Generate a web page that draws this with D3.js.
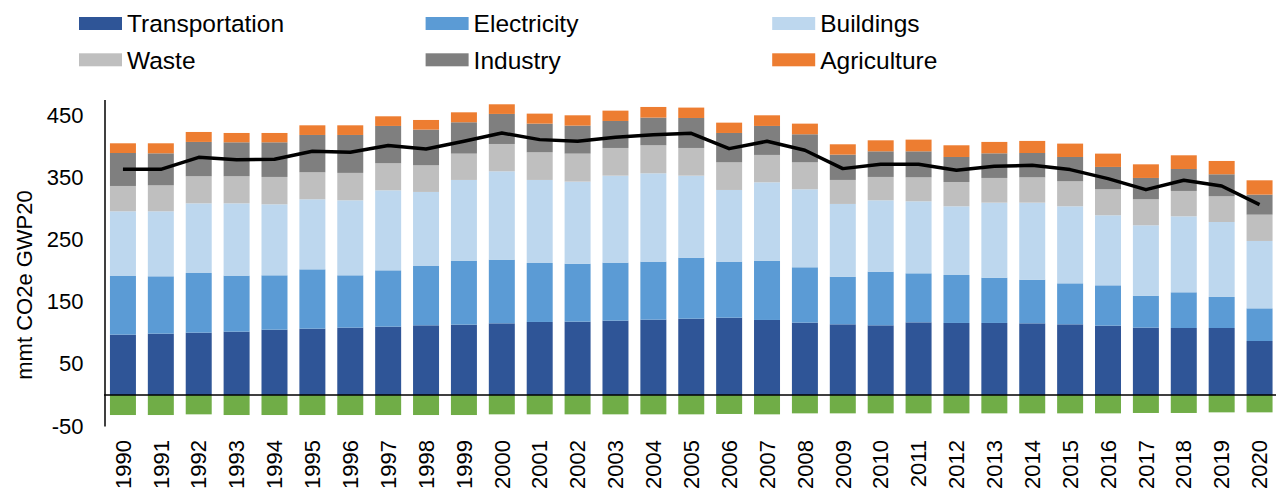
<!DOCTYPE html>
<html lang="en">
<head>
  <meta charset="UTF-8" />
  <title>Emissions by sector</title>
  <script src="https://d3js.org/d3.v7.min.js"></script>
  <style>
    body {
      margin: 0;
      background: #fff;
      font-family: 'Liberation Sans', Arial, sans-serif;
    }
    svg { display: block; }
  </style>
</head>
<body>
  <div id="chart"></div>

  <script>
    // data (mmt CO2e GWP20)
    const years = d3.range(1990, 2021).map(String);

    const transportation = [97.0, 98.6, 100.2, 101.8, 105.0, 106.6, 108.3, 109.9, 112.0, 113.1, 115.2, 117.4, 117.9, 119.5, 121.1, 122.7, 124.3, 120.6, 116.3, 113.6, 112.0, 116.8, 115.8, 115.8, 115.2, 113.6, 111.5, 108.3, 107.7, 107.7, 86.8];
    const electricity = [94.3, 92.2, 95.9, 90.1, 87.4, 95.4, 84.1, 90.5, 95.4, 102.9, 102.4, 94.8, 93.2, 93.3, 93.3, 98.1, 90.1, 95.4, 89.0, 76.6, 86.3, 78.8, 77.1, 72.8, 70.2, 65.9, 64.8, 51.4, 57.4, 49.9, 52.5];
    const buildings = [104.0, 104.5, 112.0, 116.2, 114.1, 112.6, 120.6, 128.6, 119.0, 129.7, 142.0, 133.5, 131.9, 139.8, 142.0, 131.8, 115.2, 125.9, 125.4, 116.9, 114.7, 115.8, 110.4, 120.6, 123.8, 123.8, 112.6, 113.1, 122.1, 120.5, 108.3];
    const waste = [40.7, 41.7, 43.5, 43.5, 44.0, 43.4, 44.0, 43.5, 42.8, 42.3, 43.9, 44.4, 45.0, 44.5, 45.0, 44.5, 44.4, 44.0, 43.3, 38.6, 37.5, 38.5, 39.1, 39.7, 40.7, 40.2, 41.8, 41.8, 40.8, 41.3, 42.3];
    const industry = [53.0, 51.5, 55.2, 54.6, 55.7, 60.0, 61.0, 60.0, 57.4, 50.4, 48.3, 46.1, 45.0, 43.4, 44.5, 48.2, 47.2, 46.6, 45.1, 40.7, 41.2, 41.8, 40.2, 39.6, 39.1, 39.1, 35.9, 34.3, 35.3, 35.4, 32.2];
    const agriculture = [15.6, 16.1, 16.0, 15.0, 15.0, 15.5, 15.5, 15.5, 15.5, 16.0, 15.5, 16.1, 16.6, 16.6, 17.1, 16.7, 16.6, 17.1, 17.1, 16.6, 17.7, 18.8, 18.8, 18.3, 19.4, 21.5, 21.4, 21.9, 22.0, 21.4, 23.0];
    const sinks = [-32.2, -32.2, -31.1, -32.2, -32.2, -32.2, -32.2, -32.2, -32.2, -32.2, -31.1, -31.1, -31.1, -31.1, -31.1, -31.1, -30.5, -31.1, -29.5, -29.5, -29.5, -29.5, -29.5, -29.5, -29.5, -29.5, -29.5, -28.9, -28.9, -27.9, -27.9];
    const net = [362.8, 362.8, 382.0, 378.3, 378.9, 391.7, 390.1, 400.9, 395.5, 408.0, 421.2, 410.5, 407.8, 414.3, 418.5, 420.7, 396.0, 407.8, 393.4, 363.9, 370.8, 370.8, 361.2, 367.6, 369.2, 362.3, 347.8, 330.1, 345.1, 336.0, 306.0];

    const sectors = ["Transportation", "Electricity", "Buildings", "Waste", "Industry", "Agriculture"];
    const sectorValues = [transportation, electricity, buildings, waste, industry, agriculture];
    const colors = ["#2F5597", "#5B9BD5", "#BDD7EE", "#BFBFBF", "#7F7F7F", "#ED7D31"];
    const sinkColor = "#70AD47";
    const yTicks = [-50, 50, 150, 250, 350, 450];

    const width = 1276, height = 491;
    const svg = d3.select("#chart").append("svg")
      .attr("width", width)
      .attr("height", height);

    const x = d3.scaleBand()
      .domain(years)
      .range([104, 1278.5])
      .paddingInner(0.314)
      .paddingOuter(0.157);

    const y = d3.scaleLinear()
      .domain([-50, 475])
      .range([426.1, 99.5]);

    // build rows for d3.stack
    const rows = years.map((yr, i) => {
      const r = { year: yr };
      sectors.forEach((s, j) => r[s] = sectorValues[j][i]);
      return r;
    });
    const stacked = d3.stack().keys(sectors)(rows);

    svg.append("g")
      .selectAll("g")
      .data(stacked)
      .join("g")
      .attr("fill", (d, i) => colors[i])
      .selectAll("rect")
      .data(d => d)
      .join("rect")
      .attr("x", d => x(d.data.year))
      .attr("y", d => y(d[1]))
      .attr("width", x.bandwidth())
      .attr("height", d => y(d[0]) - y(d[1]));

    // land sinks below zero
    svg.append("g")
      .selectAll("rect")
      .data(sinks)
      .join("rect")
      .attr("fill", sinkColor)
      .attr("x", (d, i) => x(years[i]))
      .attr("y", y(0))
      .attr("width", x.bandwidth())
      .attr("height", d => y(d) - y(0));

    // y axis (plain hyphen for negatives, like the original)
    const yAxis = svg.append("g")
      .attr("transform", "translate(104.5,0)")
      .call(d3.axisLeft(y).tickValues(yTicks).tickFormat(d => String(d))
        .tickSize(0).tickSizeOuter(0).tickPadding(21));
    yAxis.select(".domain").attr("stroke", "#000").attr("stroke-width", 1.5);
    yAxis.selectAll("text")
      .attr("font-family", "'Liberation Sans', Arial, sans-serif")
      .attr("font-size", 22)
      .attr("fill", "#000");

    // zero line
    svg.append("line")
      .attr("x1", 104)
      .attr("x2", width)
      .attr("y1", y(0))
      .attr("y2", y(0))
      .attr("stroke", "#000")
      .attr("stroke-width", 1.5);

    // year labels
    const xAxis = svg.append("g")
      .attr("transform", "translate(0,440)")
      .call(d3.axisBottom(x).tickSize(0));
    xAxis.select(".domain").remove();
    xAxis.selectAll("text")
      .attr("transform", "rotate(-90)")
      .attr("text-anchor", "end")
      .attr("x", 0)
      .attr("y", 0)
      .attr("dy", "0.35em")
      .attr("font-family", "'Liberation Sans', Arial, sans-serif")
      .attr("font-size", 22)
      .attr("fill", "#000");

    // y axis title
    svg.append("text")
      .attr("transform", "translate(24,285) rotate(-90)")
      .attr("text-anchor", "middle")
      .attr("dy", "0.35em")
      .attr("font-size", 22)
      .text("mmt CO2e GWP20");

    // net emissions line
    const line = d3.line()
      .x((d, i) => x(years[i]) + x.bandwidth() / 2)
      .y(d => y(d));
    svg.append("path")
      .datum(net)
      .attr("fill", "none")
      .attr("stroke", "#000")
      .attr("stroke-width", 3.5)
      .attr("stroke-linejoin", "round")
      .attr("d", line);

    // legend
    const legend = svg.append("g")
      .selectAll("g")
      .data(sectors)
      .join("g")
      .attr("transform", (d, i) => `translate(${79 + (i % 3) * 346.6},${17 + Math.floor(i / 3) * 36.3})`);
    legend.append("rect")
      .attr("width", 43)
      .attr("height", 13)
      .attr("fill", (d, i) => colors[i]);
    legend.append("text")
      .attr("x", 48)
      .attr("y", 15.3)
      .attr("font-size", 24.5)
      .attr("fill", "#000")
      .text(d => d);
  </script>
</body>
</html>
